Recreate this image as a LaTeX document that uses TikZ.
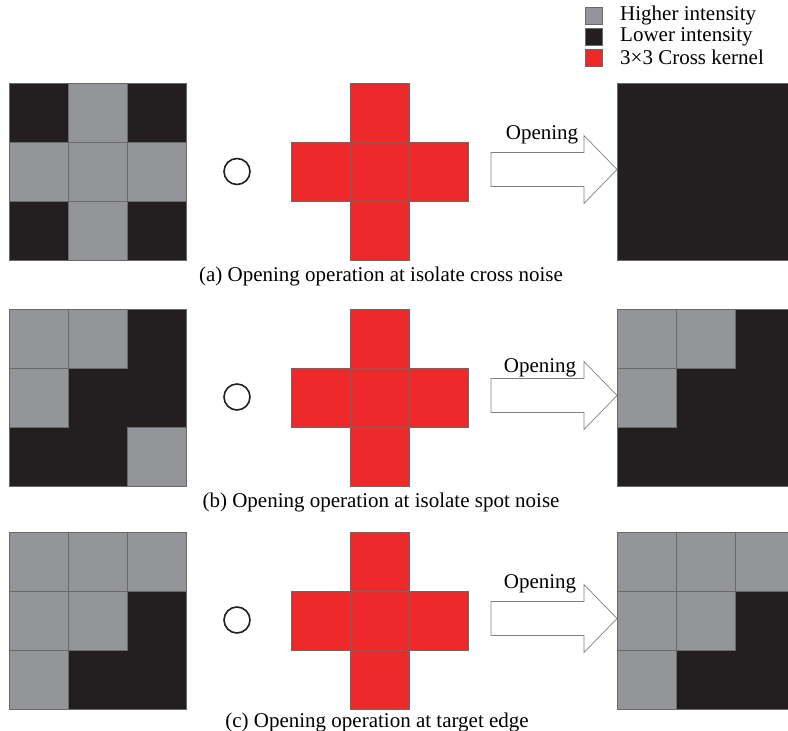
\documentclass[tikz,border=0pt]{standalone}
\usepackage{fontspec}
\setmainfont{Liberation Serif}
\usetikzlibrary{positioning}
\definecolor{hicol}{RGB}{147,149,152}
\definecolor{locol}{RGB}{35,31,32}
\definecolor{kercol}{RGB}{237,41,41}
\definecolor{edgecol}{RGB}{105,105,105}

% one 3x3 image: dark background, grey cells given as col/row
\newcommand{\pixgrid}[3]{%
  \fill[locol] (#1,#2) rectangle ++(177,177);
  \draw[edgecol, line width=0.6pt] (#1,#2) rectangle ++(177,177);
  \foreach \c/\r in {#3}
    \draw[hicell] ({#1+59*\c},{#2+59*\r}) rectangle ++(59,59);
}
% the 3x3 cross kernel
\newcommand{\crosskernel}[2]{%
  \foreach \c/\r in {1/0,0/1,1/1,2/1,1/2}
    \draw[kercell] ({#1+59*\c},{#2+59*\r}) rectangle ++(59,59);
}
% the "Opening" arrow, tip at (617,#1)
\newcommand{\openarrow}[1]{%
  \draw[openarr] (491,{#1-17}) -- (584,{#1-17}) -- (584,{#1-34}) -- (617,#1)
    -- (584,{#1+34}) -- (584,{#1+17}) -- (491,{#1+17}) -- cycle;
}

\begin{document}
\begin{tikzpicture}[x=1pt, y=-1pt, font=\fontsize{21}{24}\selectfont,
  hicell/.style={draw=edgecol, line width=0.6pt, fill=hicol},
  kercell/.style={draw=edgecol, line width=0.6pt, fill=kercol},
  openarr/.style={draw=gray, line width=0.7pt, fill=white},
  comp/.style={circle, draw=locol, line width=1.6pt, minimum size=26pt, inner sep=0},
  legsq/.style={draw=edgecol, line width=0.5pt, minimum size=17pt, inner sep=0},
  legtxt/.style={anchor=west, inner sep=0},
  captxt/.style={inner sep=0}]
\useasboundingbox (0,0) rectangle (788,731);

% legend
\node[legsq, fill=hicol] at (593.5,15.5) (lg1) {};
\node[legsq, fill=locol] at (593.5,36.5) (lg2) {};
\node[legsq, fill=kercol] at (593.5,57.5) (lg3) {};
\node[legtxt] at (620,15.5) (lt1) {Higher intensity};
\node[legtxt] at (620,36.5) (lt2) {Lower intensity};
\node[legtxt] at (620,57.5) (lt3) {3×3 Cross kernel};

% (a) isolate cross noise
\pixgrid{9}{83}{1/0,0/1,1/1,2/1,1/2}
\node[comp] at (237,171.5) (oa) {};
\crosskernel{291.5}{83}
\openarrow{169.5}
\node[captxt] at (542,135) (opa) {Opening};
\pixgrid{617}{83}{}
\node[captxt] at (381,276) (capa) {(a) Opening operation at isolate cross noise};

% (b) isolate spot noise
\pixgrid{9}{309}{0/0,1/0,0/1,2/2}
\node[comp] at (237,397) (ob) {};
\crosskernel{291.5}{309}
\openarrow{395.5}
\node[captxt] at (540,368) (opb) {Opening};
\pixgrid{617}{309}{0/0,1/0,0/1}
\node[captxt] at (381,502) (capb) {(b) Opening operation at isolate spot noise};

% (c) target edge
\pixgrid{9}{532}{0/0,1/0,2/0,0/1,1/1,0/2}
\node[comp] at (237,620) (oc) {};
\crosskernel{291.5}{532}
\openarrow{618.5}
\node[captxt] at (540,584) (opc) {Opening};
\pixgrid{617}{532}{0/0,1/0,2/0,0/1,1/1,0/2}
\node[captxt] at (377,722) (capc) {(c) Opening operation at target edge};
\end{tikzpicture}
\end{document}
